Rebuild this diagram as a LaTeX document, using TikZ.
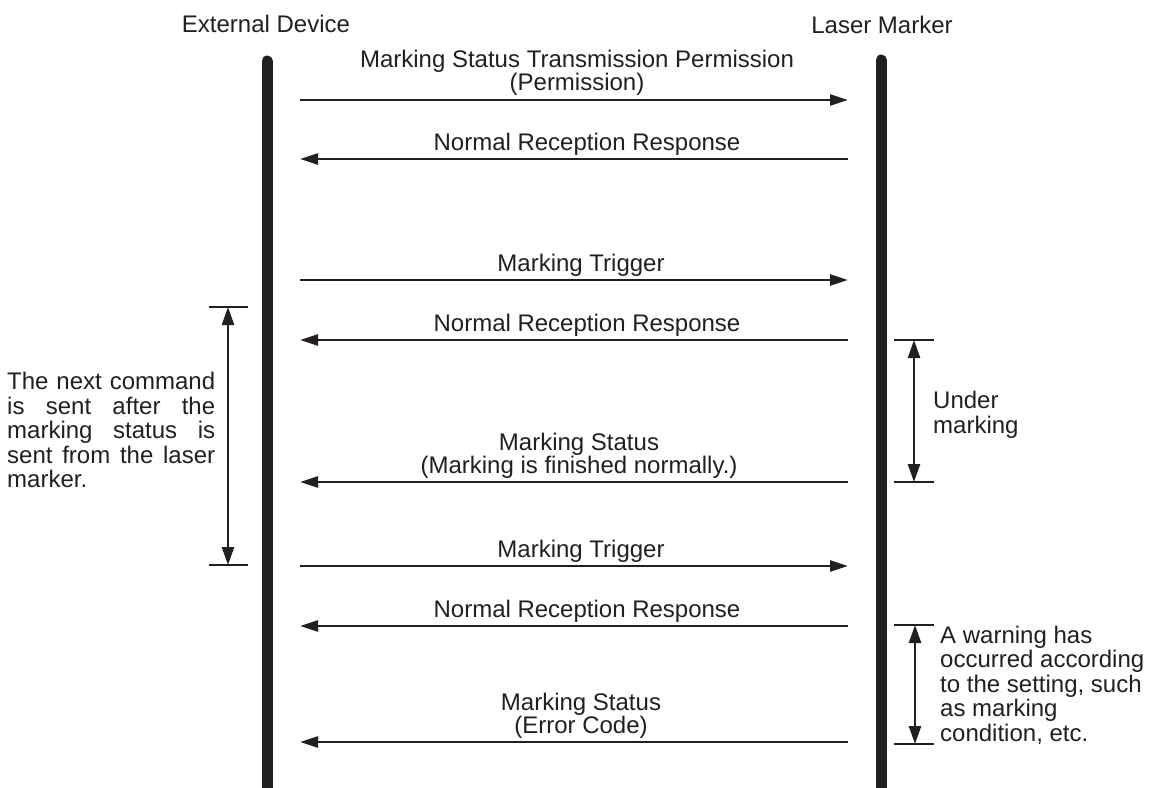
\documentclass[tikz,border=0pt]{standalone}
\usepackage{fontspec}
\setmainfont{Liberation Sans}
\usetikzlibrary{arrows.meta}
\definecolor{ink}{HTML}{231F20}
\begin{document}
\begin{tikzpicture}[x=1pt,y=-1pt,
  every node/.style={inner sep=0pt, text=ink, font=\fontsize{24}{24.5}\selectfont},
  lifeline/.style={line width=11pt, line cap=round, draw=ink},
  msg/.style={line width=2.6pt, draw=ink, -{Triangle[length=18pt,width=11pt]}},
  lbl/.style={anchor=south, align=center, font=\fontsize{24}{20.5}\selectfont},
  tickline/.style={line width=2pt, draw=ink},
  spanarrow/.style={line width=2.5pt, draw=ink, {Triangle[length=18pt,width=12pt]}-{Triangle[length=18pt,width=12pt]}},
  note/.style={anchor=north west, align=left}]
\useasboundingbox (0,0) rectangle (1150,787);
\clip (0,0) rectangle (1150,787);

% headings
\node[anchor=base] (ext) at (266,32) {External Device};
\node[anchor=base] (laser) at (882,33) {Laser Marker};

% lifelines
\coordinate (Ltop) at (267,61);
\coordinate (Lbot) at (267,800);
\coordinate (Rtop) at (881,60);
\coordinate (Rbot) at (881,800);
\draw[lifeline] (Ltop) -- (Lbot);
\draw[lifeline] (Rtop) -- (Rbot);

% messages
\coordinate (m1l) at (300,100); \coordinate (m1r) at (848,100);
\coordinate (m2l) at (300,159); \coordinate (m2r) at (848,159);
\coordinate (m3l) at (300,280); \coordinate (m3r) at (848,280);
\coordinate (m4l) at (300,340); \coordinate (m4r) at (848,340);
\coordinate (m5l) at (300,482); \coordinate (m5r) at (848,482);
\coordinate (m6l) at (300,566); \coordinate (m6r) at (848,566);
\coordinate (m7l) at (300,626); \coordinate (m7r) at (848,626);
\coordinate (m8l) at (300,742); \coordinate (m8r) at (848,742);

\draw[msg] (m1l) -- (m1r);
\draw[msg] (m2r) -- (m2l);
\draw[msg] (m3l) -- (m3r);
\draw[msg] (m4r) -- (m4l);
\draw[msg] (m5r) -- (m5l);
\draw[msg] (m6l) -- (m6r);
\draw[msg] (m7r) -- (m7l);
\draw[msg] (m8r) -- (m8l);

\node[lbl] (t1) at (577,96) {Marking Status Transmission Permission\\(Permission)};
\node[lbl] (t2) at (587,156) {Normal Reception Response};
\node[lbl] (t3) at (581,277) {Marking Trigger};
\node[lbl] (t4) at (587,337) {Normal Reception Response};
\node[lbl] (t5) at (579,479) {Marking Status\\(Marking is finished normally.)};
\node[lbl] (t6) at (581,563) {Marking Trigger};
\node[lbl] (t7) at (587,623) {Normal Reception Response};
\node[lbl] (t8) at (581,739) {Marking Status\\(Error Code)};

% left bracket
\coordinate (lta) at (209,307); \coordinate (ltb) at (248,307);
\coordinate (lba) at (209,565); \coordinate (lbb) at (248,565);
\coordinate (lat) at (228,307); \coordinate (lab) at (228,565);
\draw[tickline] (lta) -- (ltb);
\draw[tickline] (lba) -- (lbb);
\draw[spanarrow] (lat) -- (lab);
\node[note] (leftnote) at (7,372) {%
  \makebox[208pt][s]{The next command}\\
  \makebox[208pt][s]{is sent after the}\\
  \makebox[208pt][s]{marking status is}\\
  \makebox[208pt][s]{sent from the laser}\\
  marker.};

% right bracket 1
\coordinate (r1ta) at (894,340); \coordinate (r1tb) at (934,340);
\coordinate (r1ba) at (894,482); \coordinate (r1bb) at (934,482);
\coordinate (r1at) at (914,340); \coordinate (r1ab) at (914,482);
\draw[tickline] (r1ta) -- (r1tb);
\draw[tickline] (r1ba) -- (r1bb);
\draw[spanarrow] (r1at) -- (r1ab);
\node[note] (undernote) at (933,391) {Under\\marking};

% right bracket 2
\coordinate (r2ta) at (894,625); \coordinate (r2tb) at (934,625);
\coordinate (r2ba) at (894,744); \coordinate (r2bb) at (934,744);
\coordinate (r2at) at (915,625); \coordinate (r2ab) at (915,744);
\draw[tickline] (r2ta) -- (r2tb);
\draw[tickline] (r2ba) -- (r2bb);
\draw[spanarrow] (r2at) -- (r2ab);
\node[note] (warnnote) at (940,625.5) {A warning has\\occurred according\\to the setting, such\\as marking\\condition, etc.};
\end{tikzpicture}
\end{document}
